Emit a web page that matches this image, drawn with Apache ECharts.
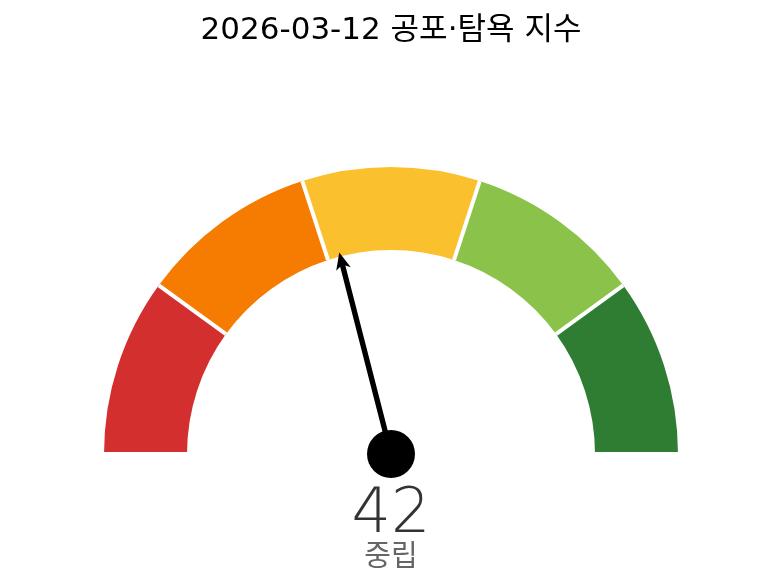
<!DOCTYPE html>
<html>
<head>
<meta charset="utf-8">
<script src="https://cdn.jsdelivr.net/npm/echarts@6/dist/echarts.min.js"></script>
<style>
    html, body { margin: 0; padding: 0; background: #fff; }
    #gauge { width: 782px; height: 586px; }
</style>
</head>
<body>
<div id="gauge"></div>
<script>
    // 데이터
    const chartTitle = '2026-03-12 공포·탐욕 지수';
    const bandStops = [0.2, 0.4, 0.6, 0.8, 1];
    const bandColors = ['#d32f2f', '#f57c00', '#fbc02d', '#8bc34a', '#2e7d32'];
    const indexValue = 42;
    const indexLabel = '중립';

    let myChart = echarts.init(document.getElementById('gauge'));
    let option = {
        backgroundColor: '#fff',
        title: {
            text: chartTitle,
            left: 'center',
            top: 10,
            textStyle: {
                fontFamily: 'DejaVu Sans, Noto Sans CJK KR',
                fontSize: 31,
                fontWeight: 'normal',
                color: '#000'
            }
        },
        series: [{
            type: 'gauge',
            center: [391, 454],
            radius: 287,
            startAngle: 180,
            endAngle: 0,
            min: 0,
            max: 100,
            splitNumber: 5,
            axisLine: {
                lineStyle: {
                    width: 83,
                    color: bandStops.map((s, i) => [s, bandColors[i]])
                }
            },
            // 구간 사이 흰색 경계선
            splitLine: {
                show: true,
                distance: -83,
                length: 83,
                lineStyle: { color: '#fff', width: 4 }
            },
            axisTick: { show: false },
            axisLabel: { show: false },
            pointer: {
                icon: 'path://M7,0 L14,17 L9.5,14 L9.5,208 L4.5,208 L4.5,14 L0,17 Z',
                length: 208,
                width: 15,
                itemStyle: { color: '#000' }
            },
            anchor: {
                show: true,
                size: 48,
                itemStyle: { color: '#000' }
            },
            title: {
                offsetCenter: [0, 101],
                fontFamily: 'Noto Sans CJK KR',
                fontSize: 29,
                color: '#666'
            },
            detail: {
                offsetCenter: [0, 62],
                fontFamily: 'DejaVu Sans',
                fontSize: 62,
                fontWeight: 200,
                color: '#333',
                formatter: '{value}'
            },
            data: [{ value: indexValue, name: indexLabel }]
        }]
    };
    myChart.setOption(option);
</script>
</body>
</html>
